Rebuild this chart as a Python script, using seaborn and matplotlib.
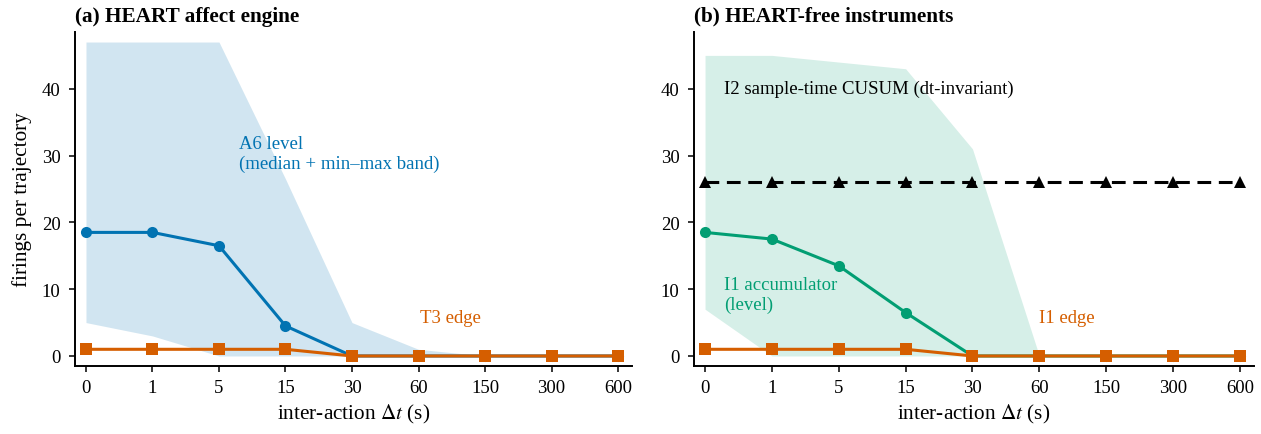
import numpy as np
import pandas as pd
import matplotlib
matplotlib.use("Agg")
import matplotlib.pyplot as plt
import seaborn as sns

# ---- data ----
dt_labels = ["0", "1", "5", "15", "30", "60", "150", "300", "600"]

a6_median = [18.5, 18.5, 16.5, 4.5, 0, 0, 0, 0, 0]
a6_min = [5, 3, 0, 0, 0, 0, 0, 0, 0]
a6_max = [47, 47, 47, 26.5, 5, 1, 0, 0, 0]
t3_edge = [1, 1, 1, 1, 0, 0, 0, 0, 0]

i1_median = [18.5, 17.5, 13.5, 6.5, 0, 0, 0, 0, 0]
i1_min = [7, 0, 0, 0, 0, 0, 0, 0, 0]
i1_max = [45, 45, 44, 43, 31, 0, 0, 0, 0]
i1_edge = [1, 1, 1, 1, 0, 0, 0, 0, 0]
i2_cusum = [26, 26, 26, 26, 26, 26, 26, 26, 26]

BLUE = "#0173B2"
ORANGE = "#D55E00"
GREEN = "#029E73"

sns.set_theme(style="ticks")
plt.rcParams["font.family"] = ["Liberation Serif", "DejaVu Serif"]
plt.rcParams["mathtext.fontset"] = "stix"
plt.rcParams["axes.linewidth"] = 1.4
plt.rcParams["axes.edgecolor"] = "black"
plt.rcParams["text.color"] = "black"
plt.rcParams["axes.labelcolor"] = "black"
plt.rcParams["xtick.color"] = "black"
plt.rcParams["ytick.color"] = "black"
plt.rcParams["xtick.major.width"] = 1.1
plt.rcParams["ytick.major.width"] = 1.1
plt.rcParams["xtick.major.size"] = 4.5
plt.rcParams["ytick.major.size"] = 4.5
plt.rcParams["xtick.major.pad"] = 5
plt.rcParams["ytick.major.pad"] = 6
plt.rcParams["xtick.labelsize"] = 13.5
plt.rcParams["ytick.labelsize"] = 13.5

fig = plt.figure(figsize=(12.61, 4.35), dpi=100)
W, H = 1261, 435
axa = fig.add_axes([75 / W, (H - 367) / H, 557 / W, 334 / H])
axb = fig.add_axes([694 / W, (H - 367) / H, 560 / W, 334 / H])

idx = np.arange(len(dt_labels))

def df(vals):
    return pd.DataFrame({"x": idx, "y": vals})

lw = 2.2
ms = 8
fs = 13.5

# panel a
axa.fill_between(idx, a6_min, a6_max, color=BLUE, alpha=0.18, linewidth=0)
sns.lineplot(data=df(a6_median), x="x", y="y", ax=axa, color=BLUE, lw=lw,
             marker="o", markersize=ms, markeredgewidth=0)
sns.lineplot(data=df(t3_edge), x="x", y="y", ax=axa, color=ORANGE, lw=lw,
             marker="s", markersize=ms, markeredgewidth=0)
axa.text(2.3, 30.3, "A6 level\n(median + min\u2013max band)", color=BLUE,
         fontsize=fs, ha="left", va="center", linespacing=1.2)
axa.text(5.02, 5.8, "T3 edge", color=ORANGE, fontsize=fs, ha="left", va="center")
axa.set_ylabel("firings per trajectory", fontsize=15.3, labelpad=7)
axa.set_title("(a) HEART affect engine", loc="left", fontweight="bold", fontsize=15.3, pad=8)

# panel b
axb.fill_between(idx, i1_min, i1_max, color=GREEN, alpha=0.16, linewidth=0)
sns.lineplot(data=df(i2_cusum), x="x", y="y", ax=axb, color="black", lw=lw,
             marker="^", markersize=ms + 1, markeredgewidth=0, linestyle="--")
axb.lines[-1].set_dashes([4.5, 2.5])
sns.lineplot(data=df(i1_median), x="x", y="y", ax=axb, color=GREEN, lw=lw,
             marker="o", markersize=ms, markeredgewidth=0)
sns.lineplot(data=df(i1_edge), x="x", y="y", ax=axb, color=ORANGE, lw=lw,
             marker="s", markersize=ms, markeredgewidth=0)
axb.text(0.28, 40, "I2 sample-time CUSUM (dt-invariant)", color="black",
         fontsize=fs, ha="left", va="center")
axb.text(0.28, 9.2, "I1 accumulator\n(level)", color=GREEN,
         fontsize=fs, ha="left", va="center", linespacing=1.2)
axb.text(5.0, 5.8, "I1 edge", color=ORANGE, fontsize=fs, ha="left", va="center")
axb.set_ylabel("")
axb.set_title("(b) HEART-free instruments", loc="left", fontweight="bold", fontsize=15.3, pad=8)

for ax in (axa, axb):
    ax.set_xticks(idx)
    ax.set_xticklabels(dt_labels)
    ax.set_yticks([0, 10, 20, 30, 40])
    ax.set_xlim(-0.165, 8.21)
    ax.set_ylim(-1.5, 48.5)
    ax.set_xlabel("inter-action $\\Delta t$ (s)", fontsize=15.3)
    sns.despine(ax=ax)

fig.savefig("out.png", dpi=100)
